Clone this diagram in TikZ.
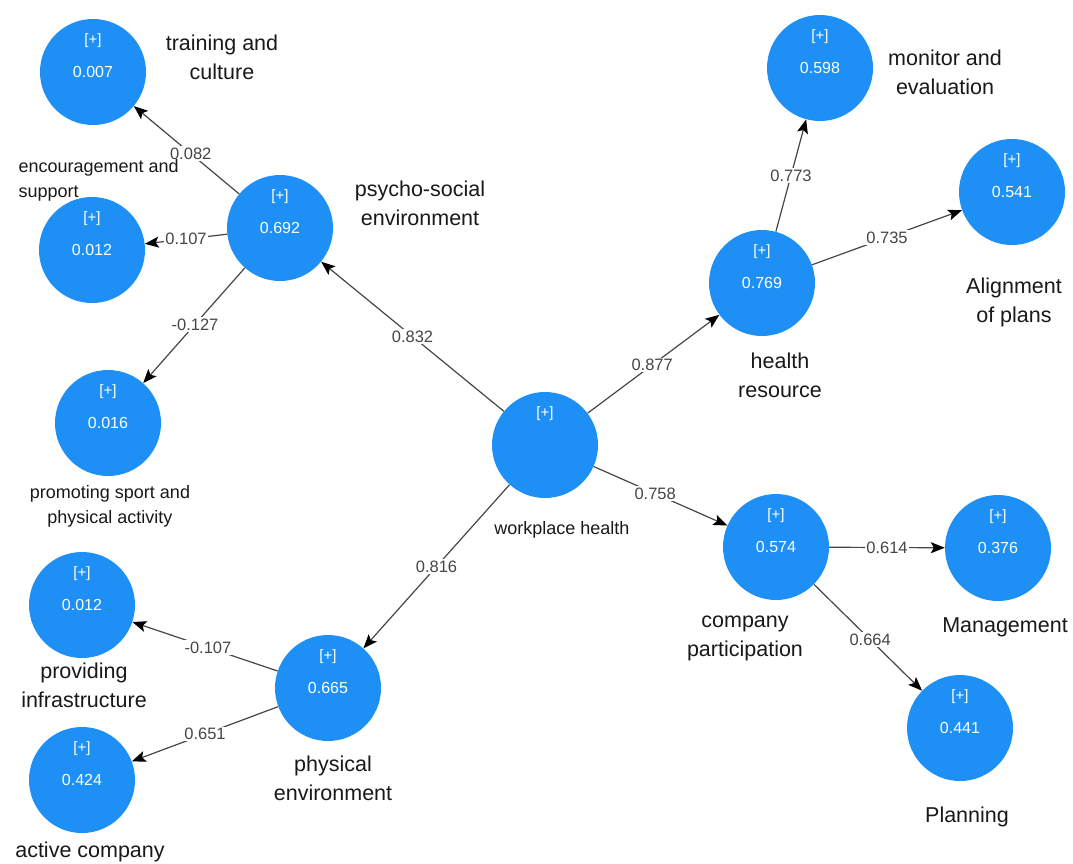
\documentclass[tikz,border=0pt]{standalone}
\usepackage{fontspec}
\setmainfont{Liberation Sans}
\usetikzlibrary{arrows.meta,calc}
\definecolor{latentblue}{RGB}{30,144,245}
\definecolor{pathgray}{RGB}{70,70,70}
\begin{document}
\begin{tikzpicture}[x=1pt,y=1pt,yscale=-1,
	latent/.style={circle,fill=latentblue,minimum size=106pt,inner sep=0pt,text=white,font=\fontsize{16}{16}\selectfont},
	plusmark/.style={inner sep=0pt,text=white,font=\fontsize{15}{15}\selectfont},
	coef/.style={draw=pathgray,line width=1.2pt,-{Stealth[length=14pt,width=11pt,inset=3pt,color=black]}},
	wt/.style={fill=white,inner sep=1.5pt,text=pathgray,font=\fontsize{16.5}{16.5}\selectfont},
	cname/.style={align=center,text=black!90,font=\fontsize{21.5}{29}\selectfont},
	sname/.style={align=center,text=black!90,font=\fontsize{18}{25}\selectfont}]
	\fill[white] (0,0) rectangle (1073,863);
	\useasboundingbox (0,0) rectangle (1073,863);

	\node[latent] (wph) at (545,445) {};
	\node[latent] (psy) at (280,228) {0.692};
	\node[latent] (trn) at (93,72) {0.007};
	\node[latent] (enc) at (92,250) {0.012};
	\node[latent] (prm) at (108,423) {0.016};
	\node[latent] (phy) at (328,688) {0.665};
	\node[latent] (prv) at (82,605) {0.012};
	\node[latent] (act) at (82,780) {0.424};
	\node[latent] (hlt) at (762,283) {0.769};
	\node[latent] (mon) at (820,68) {0.598};
	\node[latent] (aln) at (1012,192) {0.541};
	\node[latent] (cmp) at (776,547) {0.574};
	\node[latent] (mgt) at (998,548) {0.376};
	\node[latent] (pln) at (960,728) {0.441};
	\foreach \n in {wph,psy,trn,enc,prm,phy,prv,act,hlt,mon,aln,cmp,mgt,pln}
		\node[plusmark] (\n-p) at ($(\n)+(0,-31)$) {[+]};

	\draw[coef] (psy) -- node[wt,pos=0.46] (w1) {0.082} (trn);
	\draw[coef] (psy) -- node[wt] (w2) {0.107} (enc);
	\draw[coef] (psy) -- node[wt,pos=0.49] (w3) {-0.127} (prm);
	\draw[coef] (wph) -- node[wt] (w4) {0.832} (psy);
	\draw[coef] (wph) -- node[wt] (w5) {0.816} (phy);
	\draw[coef] (phy) -- node[wt,pos=0.48] (w6) {-0.107} (prv);
	\draw[coef] (phy) -- node[wt] (w7) {0.651} (act);
	\draw[coef] (wph) -- node[wt,pos=0.49] (w8) {0.877} (hlt);
	\draw[coef] (hlt) -- node[wt] (w9) {0.773} (mon);
	\draw[coef] (hlt) -- node[wt] (w10) {0.735} (aln);
	\draw[coef] (wph) -- node[wt,pos=0.46] (w11) {0.758} (cmp);
	\draw[coef] (cmp) -- node[wt] (w12) {0.614} (mgt);
	\draw[coef] (cmp) -- node[wt,pos=0.52] (w13) {0.664} (pln);

	\node[cname] (ltrn) at (222,57) {training and\\culture};
	\node[sname,align=left,anchor=west] (lenc) at (15,180) {encouragement and\\support};
	\node[cname] (lpsy) at (420,203) {psycho-social\\environment};
	\node[sname] (lprm) at (110,506) {promoting sport and\\physical activity};
	\node[sname] (lwph) at (562,530) {workplace health};
	\node[cname] (lprv) at (84,685) {providing\\infrastructure};
	\node[cname] (lphy) at (333,778) {physical\\environment};
	\node[cname] (lact) at (90,852) {active company};
	\node[cname] (lmon) at (945,72) {monitor and\\evaluation};
	\node[cname] (laln) at (1014,302) {Alignment\\of plans};
	\node[cname] (lhlt) at (780,375) {health\\resource};
	\node[cname] (lcmp) at (745,638) {company\\participation};
	\node[cname] (lmgt) at (1005,627) {Management};
	\node[cname] (lpln) at (967,817) {Planning};
\end{tikzpicture}
\end{document}
